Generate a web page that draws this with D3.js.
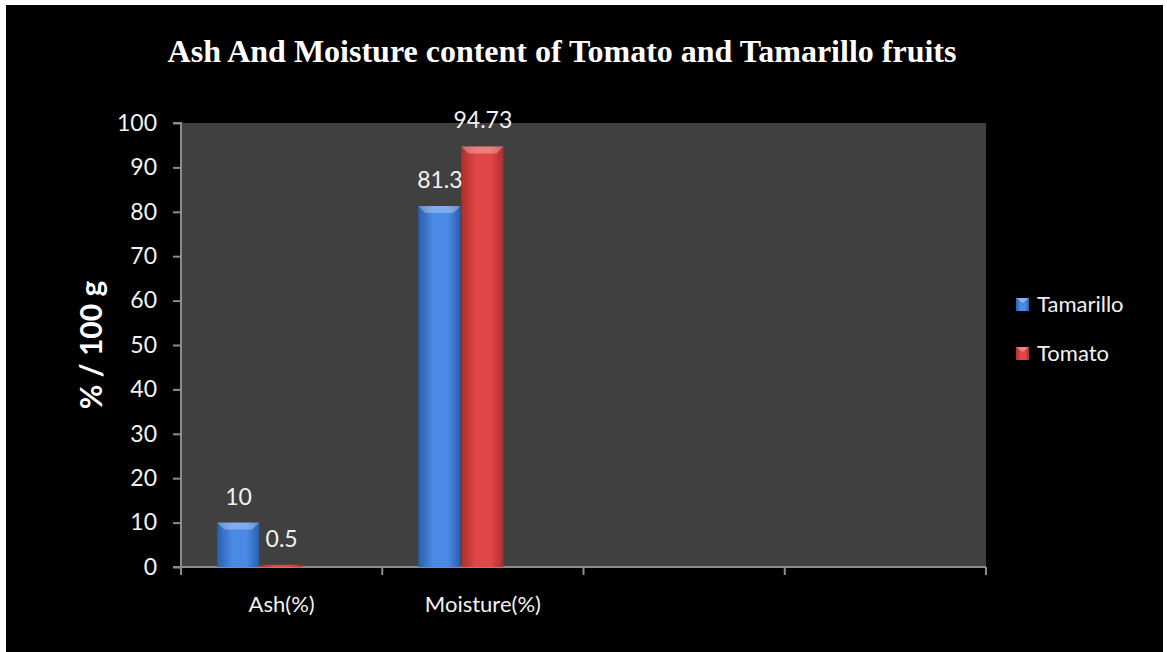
<!DOCTYPE html>
<html>
<head>
<meta charset="utf-8">
<script src="https://cdn.jsdelivr.net/npm/d3@7"></script>
<style>
  html, body { margin: 0; padding: 0; background: #ffffff; }
  svg { display: block; }
</style>
</head>
<body>
<svg id="chart" width="1167" height="652"></svg>
<script>
// Chart data
const categories = ["Ash(%)", "Moisture(%)", "", " "];
const seriesNames = ["Tamarillo", "Tomato"];
const tamarilloValues = [10, 81.3, null, null];
const tomatoValues = [0.5, 94.73, null, null];
const yTicks = [0, 10, 20, 30, 40, 50, 60, 70, 80, 90, 100];
const seriesColors = { Tamarillo: ["#2a5fae", "#4a8ae6"], Tomato: ["#ad2f2f", "#e04848"] };

const svg = d3.select("#chart");
const W = 1167, H = 652;
const font = "Lato, 'Open Sans', sans-serif";

// Black frame
svg.append("rect").attr("x", 6).attr("y", 5).attr("width", 1157).attr("height", H - 5).attr("fill", "#000");

const plot = { left: 181, right: 986, top: 123, bottom: 567 };

svg.append("rect")
  .attr("x", plot.left).attr("y", plot.top)
  .attr("width", plot.right - plot.left).attr("height", plot.bottom - plot.top)
  .attr("fill", "#404040");

const x0 = d3.scaleBand().domain(categories).range([plot.left, plot.right]).padding(0);
// three slots per category; the last slot stays empty
const x1 = d3.scaleBand().domain([...seriesNames, "_"]).range([0, x0.bandwidth()]).paddingOuter(0.84).paddingInner(0);
const y = d3.scaleLinear().domain([0, 100]).range([plot.bottom, plot.top]);

// Gradients
const defs = svg.append("defs");
seriesNames.forEach(s => {
  const g = defs.append("linearGradient").attr("id", "grad-" + s).attr("x1", "0").attr("x2", "1").attr("y1", "0").attr("y2", "0");
  g.append("stop").attr("offset", "0%").attr("stop-color", seriesColors[s][0]);
  g.append("stop").attr("offset", "35%").attr("stop-color", seriesColors[s][1]);
  g.append("stop").attr("offset", "70%").attr("stop-color", seriesColors[s][1]);
  g.append("stop").attr("offset", "100%").attr("stop-color", seriesColors[s][0]);
});

// Axes
const axisColor = "#8c8c8c";
const yAxis = svg.append("g").attr("transform", `translate(${plot.left},0)`)
  .call(d3.axisLeft(y).tickValues(yTicks).tickSize(8).tickPadding(16));
yAxis.select(".domain").attr("stroke", axisColor).attr("stroke-width", 2).attr("d", `M-8,${plot.top}H0V${plot.bottom}`);
yAxis.selectAll(".tick line").attr("stroke", axisColor).attr("stroke-width", 2);
yAxis.selectAll(".tick text").attr("fill", "#f2f2f2").attr("font-family", font).attr("font-size", 23);

const xAxis = svg.append("g").attr("transform", `translate(0,${plot.bottom})`);
xAxis.append("line").attr("x1", plot.left - 8).attr("x2", plot.right).attr("y1", 0).attr("y2", 0)
  .attr("stroke", axisColor).attr("stroke-width", 2);
const boundaries = categories.map(c => x0(c)).concat([plot.right]);
xAxis.selectAll(".xt").data(boundaries).enter().append("line")
  .attr("x1", d => d).attr("x2", d => d).attr("y1", 0).attr("y2", 8)
  .attr("stroke", axisColor).attr("stroke-width", 2);
xAxis.selectAll(".xl").data(categories).enter().append("text")
  .attr("x", d => x0(d) + x0.bandwidth() / 2).attr("y", 45)
  .attr("text-anchor", "middle").attr("fill", "#f2f2f2")
  .attr("font-family", font).attr("font-size", 22)
  .text(d => d.trim());

// Bars
const seriesData = [
  { name: "Tamarillo", values: tamarilloValues },
  { name: "Tomato", values: tomatoValues }
];
const barData = [];
seriesData.forEach(s => s.values.forEach((v, i) => {
  if (v != null) barData.push({ series: s.name, cat: categories[i], value: v });
}));

const bars = svg.append("g").selectAll("g").data(barData).enter().append("g");
bars.append("rect")
  .attr("x", d => x0(d.cat) + x1(d.series))
  .attr("y", d => y(d.value))
  .attr("width", x1.bandwidth() - 1)
  .attr("height", d => y(0) - y(d.value))
  .attr("fill", d => `url(#grad-${d.series})`);
// top bevel
bars.filter(d => y(0) - y(d.value) > 8).append("path")
  .attr("d", d => {
    const xl = x0(d.cat) + x1(d.series), w = x1.bandwidth() - 1, t = y(d.value), b = 7;
    return `M${xl},${t}H${xl + w}L${xl + w - b},${t + b}H${xl + b}Z`;
  })
  .attr("fill", "#ffffff").attr("opacity", 0.3);

// Value labels
svg.append("g").selectAll("text").data(barData).enter().append("text")
  .attr("x", d => x0(d.cat) + x1(d.series) + x1.bandwidth() / 2)
  .attr("y", d => y(d.value) - 18)
  .attr("text-anchor", "middle").attr("fill", "#f2f2f2")
  .attr("font-family", font).attr("font-size", 23)
  .text(d => d.value);

// Title
svg.append("text").attr("x", 562).attr("y", 62).attr("text-anchor", "middle")
  .attr("fill", "#ffffff").attr("font-family", "'Liberation Serif', 'Times New Roman', serif")
  .attr("font-weight", "bold").attr("font-size", 32)
  .text("Ash And Moisture content of Tomato and Tamarillo fruits");

// Y axis title
svg.append("text").attr("transform", `translate(102,345) rotate(-90)`)
  .attr("text-anchor", "middle").attr("fill", "#ffffff")
  .attr("font-family", font).attr("font-weight", "bold").attr("font-size", 30)
  .text("% / 100 g");

// Legend
const legend = svg.append("g").selectAll("g").data(seriesNames).enter().append("g")
  .attr("transform", (d, i) => `translate(1016,${298 + i * 49})`);
legend.append("rect").attr("width", 13).attr("height", 13).attr("fill", d => `url(#grad-${d})`);
legend.append("path").attr("d", "M0,0H13L6.5,5Z").attr("fill", "#fff").attr("opacity", 0.35);
legend.append("text").attr("x", 21).attr("y", 14)
  .attr("fill", "#f2f2f2").attr("font-family", font).attr("font-size", 22)
  .text(d => d);
</script>
</body>
</html>
